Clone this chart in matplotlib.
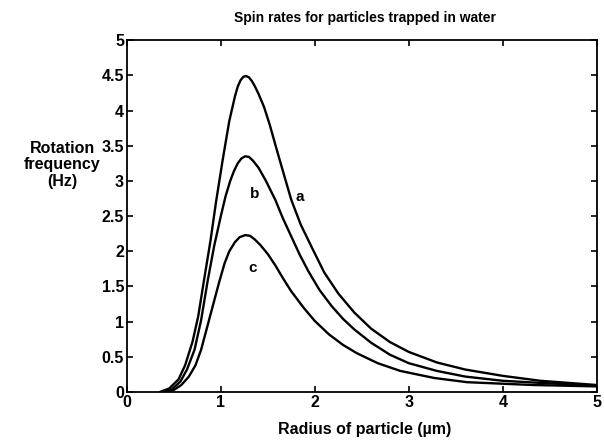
import matplotlib
matplotlib.use('Agg')
import matplotlib.pyplot as plt

plt.rcParams['font.family'] = ['Liberation Sans', 'DejaVu Sans']
plt.rcParams['font.weight'] = 'bold'

# Curve a (top)
a_x = [0.35, 0.45, 0.55, 0.62, 0.70, 0.76, 0.82, 0.89, 0.95, 1.02, 1.09, 1.15, 1.18, 1.21, 1.24,
       1.27, 1.30, 1.33, 1.36, 1.40, 1.46, 1.52, 1.60, 1.68, 1.75, 1.85, 1.97, 2.10, 2.25, 2.42,
       2.60, 2.80, 3.00, 3.30, 3.60, 4.00, 4.40, 4.70, 5.00]
a_y = [0.00, 0.05, 0.18, 0.38, 0.72, 1.08, 1.58, 2.15, 2.71, 3.30, 3.85, 4.20, 4.34, 4.43, 4.48,
       4.49, 4.47, 4.42, 4.35, 4.24, 4.05, 3.80, 3.42, 3.05, 2.73, 2.38, 2.05, 1.70, 1.40, 1.13,
       0.90, 0.71, 0.57, 0.42, 0.32, 0.23, 0.16, 0.13, 0.10]

# Curve b (middle)
b_x = [0.40, 0.48, 0.57, 0.64, 0.72, 0.79, 0.86, 0.93, 1.00, 1.05, 1.10, 1.14, 1.18, 1.22, 1.26,
       1.30, 1.34, 1.40, 1.48, 1.58, 1.66, 1.75, 1.84, 1.93, 2.05, 2.18, 2.30, 2.42, 2.60, 2.80,
       3.00, 3.30, 3.60, 4.00, 4.40, 4.70, 5.00]
b_y = [0.00, 0.04, 0.15, 0.32, 0.60, 1.02, 1.58, 2.08, 2.50, 2.78, 3.00, 3.14, 3.25, 3.32, 3.35,
       3.34, 3.29, 3.19, 3.00, 2.73, 2.47, 2.21, 1.95, 1.72, 1.45, 1.22, 1.04, 0.89, 0.70, 0.53,
       0.41, 0.30, 0.22, 0.16, 0.13, 0.11, 0.09]

# Curve c (bottom)
c_x = [0.42, 0.50, 0.58, 0.66, 0.73, 0.79, 0.86, 0.92, 0.98, 1.04, 1.09, 1.15, 1.20, 1.26,
       1.31, 1.36, 1.42, 1.50, 1.58, 1.66, 1.75, 1.88, 2.00, 2.15, 2.30, 2.45, 2.67, 2.91,
       3.27, 3.62, 3.97, 4.32, 4.67, 5.00]
c_y = [0.00, 0.03, 0.10, 0.22, 0.38, 0.60, 0.95, 1.25, 1.55, 1.83, 2.00, 2.13, 2.20, 2.23,
       2.22, 2.17, 2.09, 1.96, 1.80, 1.62, 1.43, 1.20, 1.01, 0.82, 0.67, 0.55, 0.41, 0.30,
       0.20, 0.14, 0.12, 0.10, 0.09, 0.08]

curve_labels = ['a', 'b', 'c']
label_pos = [(1.84, 2.77), (1.36, 2.81), (1.34, 1.76)]

fig = plt.figure(figsize=(6.04, 4.41), dpi=100)
ax = fig.add_axes([0.21, 0.111, 0.778, 0.798])

for xs, ys in [(a_x, a_y), (b_x, b_y), (c_x, c_y)]:
    ax.plot(xs, ys, color='black', linewidth=1.7)

for lab, (lx, ly) in zip(curve_labels, label_pos):
    ax.text(lx, ly, lab, fontsize=11, fontweight='bold', ha='center', va='center')

ax.set_xlim(0, 5)
ax.set_ylim(0, 5)
ax.set_xticks([0, 1, 2, 3, 4, 5])
ax.set_yticks([0, 0.5, 1, 1.5, 2, 2.5, 3, 3.5, 4, 4.5, 5])
ax.set_yticklabels(['0', '0.5', '1', '1.5', '2', '2.5', '3', '3.5', '4', '4.5', '5'])
ax.tick_params(direction='in', top=True, right=True, length=4, width=1.2,
               labelsize=11.5, pad=2)
for lbl in ax.get_xticklabels() + ax.get_yticklabels():
    lbl.set_fontweight('bold')
for sp in ax.spines.values():
    sp.set_linewidth(1.3)

fig.text(0.604, 0.960, 'Spin rates for particles trapped in water',
         ha='center', va='center', fontsize=10, fontweight='bold')
fig.text(0.604, 0.027, 'Radius of particle (\u00b5m)',
         ha='center', va='center', fontsize=11.5, fontweight='bold')
fig.text(0.103, 0.626, 'Rotation\nfrequency\n(Hz)',
         ha='center', va='center', fontsize=11.5, fontweight='bold', linespacing=1.15)

fig.savefig('out.png', dpi=100)
